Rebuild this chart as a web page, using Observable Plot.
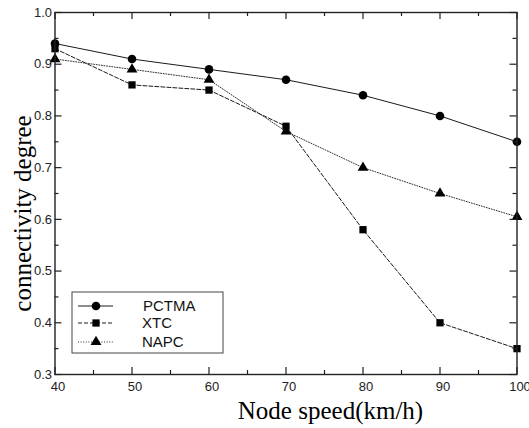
<!DOCTYPE html>
<html>
<head>
<meta charset="utf-8">
<script src="https://cdn.jsdelivr.net/npm/d3@7"></script>
<script src="https://cdn.jsdelivr.net/npm/@observablehq/plot@0.6"></script>
<style>
  html, body { margin: 0; padding: 0; background: #fff; }
  #chart { width: 529px; height: 428px; }
</style>
</head>
<body>
<div id="chart"></div>
<script>
// ---- data ----
const speeds = [40, 50, 60, 70, 80, 90, 100];
const pctma = [0.94, 0.91, 0.89, 0.87, 0.84, 0.80, 0.75];
const xtc   = [0.93, 0.86, 0.85, 0.78, 0.58, 0.40, 0.35];
const napc  = [0.91, 0.89, 0.87, 0.77, 0.70, 0.65, 0.605];
const seriesNames = ["PCTMA", "XTC", "NAPC"];
const xTickLabels = [40, 50, 60, 70, 80, 90, 100];
const xMinorTicks = [45, 55, 65, 75, 85, 95];
const yTickLabels = [0.3, 0.4, 0.5, 0.6, 0.7, 0.8, 0.9, 1.0];
const yMinorTicks = [0.35, 0.45, 0.55, 0.65, 0.75, 0.85, 0.95];
const xTitle = "Node speed(km/h)";
const yTitle = "connectivity degree";

// ---- build table ----
const seriesValues = {PCTMA: pctma, XTC: xtc, NAPC: napc};
const rows = [];
for (const s of seriesNames) speeds.forEach((x, i) => rows.push({series: s, x, y: seriesValues[s][i]}));

const styles = {
  PCTMA: {dash: null, symbol: "circle", r: 4.3, stroke: "#1a1a1a"},
  XTC:   {dash: "4,2", symbol: "square", r: 4.1, stroke: "#1a1a1a"},
  NAPC:  {dash: "1,1.6", symbol: "triangle", r: 4.0, stroke: "#333"}
};

const W = 529, H = 428;
const mL = 54.5, mR = 12.5, mT = 12, mB = 54;
const iW = W - mL - mR, iH = H - mT - mB;
const sans = "'Liberation Sans', Arial, Helvetica, sans-serif";
const serif = "'Liberation Serif', 'Times New Roman', Times, serif";

const marks = [];
for (const s of seriesNames) {
  const data = rows.filter(d => d.series === s);
  const st = styles[s];
  marks.push(Plot.line(data, {x: "x", y: "y", stroke: st.stroke, strokeWidth: 1, strokeDasharray: st.dash}));
}
for (const s of seriesNames) {
  const data = rows.filter(d => d.series === s);
  const st = styles[s];
  marks.push(Plot.dot(data, {x: "x", y: "y", symbol: st.symbol, r: st.r, fill: "#000", stroke: "none"}));
}

// inward ticks, bottom/top/left/right
const majLen = 7, minLen = 4;
marks.push(
  Plot.tickX(xTickLabels, {x: d => d, insetTop: iH - majLen, stroke: "#222", strokeWidth: 1.2}),
  Plot.tickX(xTickLabels, {x: d => d, insetBottom: iH - majLen, stroke: "#222", strokeWidth: 1.2}),
  Plot.tickX(xMinorTicks, {x: d => d, insetTop: iH - minLen, stroke: "#222", strokeWidth: 1.2}),
  Plot.tickX(xMinorTicks, {x: d => d, insetBottom: iH - minLen, stroke: "#222", strokeWidth: 1.2}),
  Plot.tickY(yTickLabels, {y: d => d, insetRight: iW - majLen, stroke: "#222", strokeWidth: 1.2}),
  Plot.tickY(yTickLabels, {y: d => d, insetLeft: iW - majLen, stroke: "#222", strokeWidth: 1.2}),
  Plot.tickY(yMinorTicks, {y: d => d, insetRight: iW - minLen, stroke: "#222", strokeWidth: 1.2}),
  Plot.tickY(yMinorTicks, {y: d => d, insetLeft: iW - minLen, stroke: "#222", strokeWidth: 1.2}),
  Plot.frame({stroke: "#222", strokeWidth: 1.4}),
  Plot.axisX(xTickLabels, {anchor: "bottom", tickSize: 0, tickPadding: 7, dx: 3, fontSize: 13, fontFamily: sans, fill: "#222", label: null}),
  Plot.axisY(yTickLabels, {anchor: "left", tickSize: 0, tickPadding: 3, fontSize: 13, fontFamily: sans, fill: "#222", tickFormat: d3.format(".1f"), label: null}),
  Plot.text([xTitle], {frameAnchor: "bottom", text: d => d, dx: 44.5, dy: 36, fontSize: 25, fontFamily: serif, fill: "#000", textAnchor: "middle", lineAnchor: "middle"}),
  Plot.text([yTitle], {frameAnchor: "left", text: d => d, rotate: -90, dx: -32, dy: 20, fontSize: 25, fontFamily: serif, fill: "#000", textAnchor: "middle", lineAnchor: "middle"})
);

const svg = Plot.plot({
  width: W, height: H,
  marginLeft: mL, marginRight: mR, marginTop: mT, marginBottom: mB,
  style: {background: "#fff", overflow: "visible"},
  x: {domain: [40, 100], axis: null},
  y: {domain: [0.3, 1.0], axis: null},
  marks
});
document.getElementById("chart").appendChild(svg);

// ---- legend (inside plot, lower left) ----
const g = d3.select(svg).append("g").attr("class", "legend");
g.append("rect").attr("x", 72).attr("y", 292).attr("width", 151).attr("height", 61)
  .attr("fill", "#fff").attr("stroke", "#444").attr("stroke-width", 1);
const legendY = [306, 323, 342];
const symMap = {circle: d3.symbolCircle, square: d3.symbolSquare, triangle: d3.symbolTriangle};
seriesNames.forEach((s, i) => {
  const st = styles[s];
  const y = legendY[i];
  g.append("line").attr("x1", 78).attr("x2", 113).attr("y1", y).attr("y2", y)
    .attr("stroke", st.stroke).attr("stroke-width", 1).attr("stroke-dasharray", st.dash);
  g.append("path").attr("transform", `translate(96,${y})`)
    .attr("d", d3.symbol(symMap[st.symbol], st.r * st.r * Math.PI)()).attr("fill", "#000");
  g.append("text").attr("x", i === 0 ? 143 : 142).attr("y", y).attr("dy", "0.35em")
    .attr("text-anchor", "start")
    .attr("font-family", sans).attr("font-size", 15).attr("fill", "#111").text(s);
});
</script>
</body>
</html>
